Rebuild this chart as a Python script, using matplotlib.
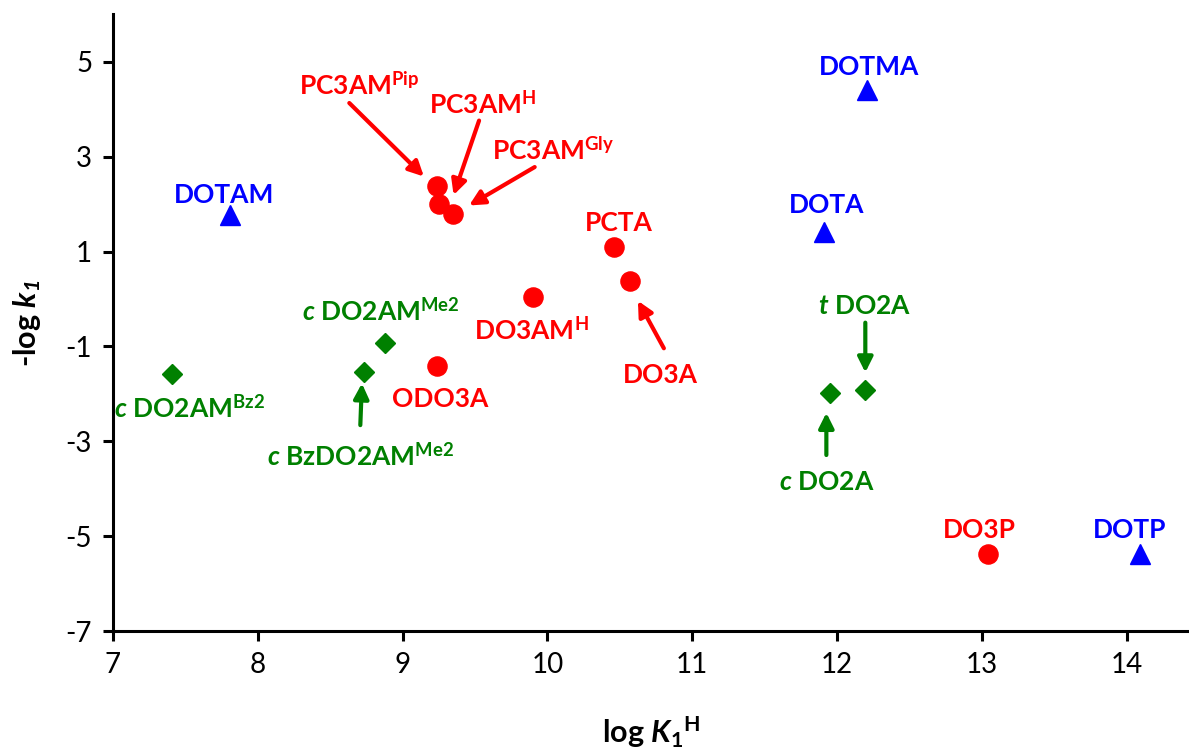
import matplotlib
matplotlib.use("Agg")
import matplotlib.pyplot as plt

plt.rcParams['font.family'] = ['Lato', 'DejaVu Sans']
plt.rcParams['mathtext.fontset'] = 'custom'
plt.rcParams['mathtext.rm'] = 'Lato'
plt.rcParams['mathtext.it'] = 'Lato:italic'
plt.rcParams['mathtext.bf'] = 'Lato:bold'
plt.rcParams['mathtext.bfit'] = 'Lato:italic:bold'
plt.rcParams['axes.unicode_minus'] = False

# ligands: protonation constant log K1H vs dissociation rate -log k1
tetra_names = ["DOTAM", "DOTMA", "DOTA", "DOTP"]
tetra_logK = [7.81, 12.21, 11.91, 14.09]
tetra_logk = [1.77, 4.41, 1.41, -5.37]

tri_names = ["PC3AM$^{\\mathbf{Pip}}$", "PC3AM$^{\\mathbf{H}}$", "PC3AM$^{\\mathbf{Gly}}$",
             "PCTA", "DO3A", "DO3AM$^{\\mathbf{H}}$", "ODO3A", "DO3P"]
tri_logK = [9.24, 9.25, 9.35, 10.46, 10.57, 9.90, 9.24, 13.04]
tri_logk = [2.38, 2.00, 1.80, 1.10, 0.37, 0.04, -1.41, -5.38]

di_names = ["$\\mathbfit{c}$ DO2AM$^{\\mathbf{Bz2}}$", "$\\mathbfit{c}$ BzDO2AM$^{\\mathbf{Me2}}$",
            "$\\mathbfit{c}$ DO2AM$^{\\mathbf{Me2}}$", "$\\mathbfit{c}$ DO2A", "$\\mathbfit{t}$ DO2A"]
di_logK = [7.41, 8.73, 8.88, 11.95, 12.19]
di_logk = [-1.58, -1.55, -0.93, -1.99, -1.91]

BLUE, RED, GREEN = "#0000ff", "#ff0000", "#008000"

fig = plt.figure(figsize=(11.89, 7.53), dpi=100)
ax = fig.add_axes([0.095, 0.162, 0.905, 0.819])

ax.plot(tetra_logK, tetra_logk, ls="none", marker="^", ms=14.5, color=BLUE, mec=BLUE)
ax.plot(tri_logK, tri_logk, ls="none", marker="o", ms=13.8, color=RED, mec=RED)
ax.plot(di_logK, di_logk, ls="none", marker="D", ms=10, color=GREEN, mec=GREEN)

# label placement (text x centre, baseline y)
tetra_pos = [(7.77, 2.02), (12.22, 4.73), (11.93, 1.81), (14.02, -5.04)]
tri_pos = [(8.70, 4.30), (9.55, 3.92), (10.04, 2.93), (10.49, 1.44),
           (10.78, -1.77), (9.89, -0.85), (9.26, -2.28), (12.98, -5.04)]
di_pos = [(7.53, -2.50), (8.71, -3.50), (8.85, -0.44), (11.93, -4.03), (12.19, -0.32)]

# arrows: (start, tip)
tri_arrows = {0: ((8.632, 4.13), (9.147, 2.58)),
              1: ((9.528, 3.76), (9.352, 2.19)),
              2: ((9.912, 2.78), (9.459, 1.97)),
              4: ((10.804, -1.04), (10.625, -0.04))}
di_arrows = {1: ((8.708, -2.66), (8.719, -1.78)),
             3: ((11.926, -3.29), (11.926, -2.40)),
             4: ((12.195, -0.50), (12.195, -1.55))}

lab_kw = dict(fontsize=19, fontweight="bold", ha="center", va="baseline")

for name, (tx, ty) in zip(tetra_names, tetra_pos):
    ax.text(tx, ty, name, color=BLUE, **lab_kw)
for name, (tx, ty) in zip(tri_names, tri_pos):
    ax.text(tx, ty, name, color=RED, **lab_kw)
for name, (tx, ty) in zip(di_names, di_pos):
    ax.text(tx, ty, name, color=GREEN, **lab_kw)

arrow_kw = dict(arrowstyle="-|>,head_length=0.9,head_width=0.45", lw=3,
                shrinkA=0, shrinkB=0)
for (start, tip) in tri_arrows.values():
    ax.annotate("", xy=tip, xytext=start,
                arrowprops=dict(color=RED, **arrow_kw))
for (start, tip) in di_arrows.values():
    ax.annotate("", xy=tip, xytext=start,
                arrowprops=dict(color=GREEN, **arrow_kw))

ax.set_xlim(7, 14.43)
ax.set_ylim(-7, 6)
ax.set_xticks(range(7, 15))
ax.set_yticks(range(-7, 6, 2))

for side in ["top", "right"]:
    ax.spines[side].set_visible(False)
for side in ["left", "bottom"]:
    ax.spines[side].set_linewidth(2.2)
ax.tick_params(direction="out", length=7, width=2.2, labelsize=20, pad=8)

ax.set_xlabel("log $\\mathbfit{K}_{\\mathbf{1}}{}^{\\mathbf{H}}$", fontsize=22,
              fontweight="bold", labelpad=26)
ax.set_ylabel("-log $\\mathbfit{k}_{\\mathbfit{1}}$", fontsize=22,
              fontweight="bold", labelpad=16)

fig.savefig("out.png", dpi=100)
